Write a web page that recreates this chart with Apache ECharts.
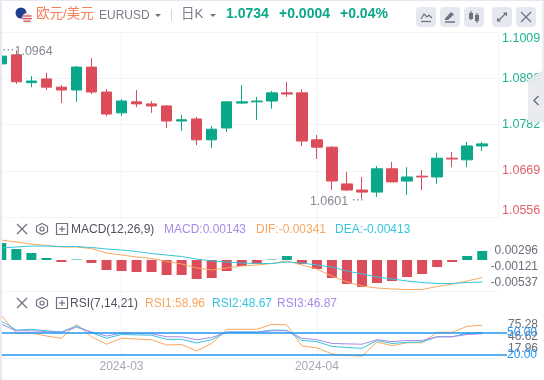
<!DOCTYPE html>
<html>
<head>
<meta charset="utf-8">
<style>html,body{margin:0;padding:0;background:#fff}#chart{width:544px;height:380px}</style>
<script src="https://cdn.jsdelivr.net/npm/echarts@6/dist/echarts.min.js"></script>
</head>
<body>
<div id="chart"></div>
<script>
// candles, oldest first, green = up
const opens  = [1.0931,1.0953,1.0885,1.0894,1.0874,1.0867,1.0923,1.0862,1.0811,1.0838,1.0833,1.0828,1.0791,1.0796,1.0745,1.0774,1.0835,1.0838,1.0840,1.0860,1.0860,1.0745,1.0727,1.0637,1.0622,1.0617,1.0674,1.0644,1.0656,1.0654,1.0700,1.0696,1.0730];
const closes = [1.0950,1.0887,1.0889,1.0874,1.0867,1.0923,1.0862,1.0808,1.0840,1.0833,1.0828,1.0791,1.0794,1.0745,1.0771,1.0838,1.0838,1.0840,1.0860,1.0857,1.0742,1.0727,1.0644,1.0622,1.0617,1.0674,1.0642,1.0654,1.0654,1.0700,1.0698,1.0730,1.0735];
const lows   = [1.0931,1.0882,1.0874,1.0867,1.0835,1.0838,1.0857,1.0803,1.0803,1.0825,1.0811,1.0774,1.0767,1.0732,1.0725,1.0764,1.0833,1.0794,1.0821,1.0850,1.0730,1.0698,1.0622,1.0620,1.0601,1.0605,1.0642,1.0610,1.0622,1.0637,1.0678,1.0678,1.0718];
const highs  = [1.0950,1.0964,1.0901,1.0909,1.0879,1.0926,1.0945,1.0869,1.0845,1.0867,1.0840,1.0830,1.0806,1.0801,1.0779,1.0838,1.0879,1.0850,1.0865,1.0887,1.0869,1.0757,1.0730,1.0666,1.0654,1.0681,1.0691,1.0678,1.0671,1.0713,1.0715,1.0740,1.0740];

const macdBars = [0.0034,0.0022,0.0014,0.0004,-0.0004,0.0001,-0.0006,-0.0020,-0.0022,-0.0024,-0.0024,-0.0030,-0.0030,-0.0038,-0.0036,-0.0022,-0.0012,-0.0008,0.0001,0.0008,-0.0008,-0.0018,-0.0036,-0.0048,-0.0054,-0.0046,-0.0042,-0.0034,-0.0028,-0.0014,-0.0004,0.0008,0.0018];
const dif = [0.0040,0.0036,0.0032,0.0029,0.0026,0.0026,0.0023,0.0014,0.0010,0.0006,0.0003,-0.0003,-0.0008,-0.0016,-0.0020,-0.0016,-0.0012,-0.0010,-0.0007,-0.0002,-0.0010,-0.0018,-0.0032,-0.0044,-0.0052,-0.0056,-0.0058,-0.0059,-0.0059,-0.0053,-0.0048,-0.0042,-0.0035];
const dea = [0.0024,0.0026,0.0028,0.0028,0.0027,0.0027,0.0025,0.0022,0.0020,0.0017,0.0013,0.0010,0.0007,0.0002,-0.0002,-0.0004,-0.0006,-0.0007,-0.0007,-0.0004,-0.0006,-0.0010,-0.0014,-0.0022,-0.0028,-0.0034,-0.0038,-0.0042,-0.0045,-0.0047,-0.0047,-0.0045,-0.0044];

const rsi1 = [73,48.7,49,45,42,60.7,44,34,42,41,40,33,33.5,25,35,54,54,54,60.7,60,31.7,29,21,19,18,37,32,36,36,50,50,58,59.5];
const rsi2 = [65,53,54,52,50.5,58.5,49.5,42,47,46.5,46,40.5,40.5,35.7,40,50.5,50.5,50.5,53,52.7,39,37.5,31,29.5,28.5,39,35,36.5,37,44,44,48.7,49.5];
const rsi3 = [60.7,52,52,51,50,56.7,50.5,45,48.7,48,48,44,44,40,43,50,50,50,52,52,42,40,35,34.5,34,40,37.5,39,39,44,44,47,48];
const rsiLevels = [50, 20];

const priceTicks = [1.1009, 1.0896, 1.0782, 1.0669, 1.0556];
const macdTicks = [0.00296, -0.00121, -0.00537];
const rsiTicks = [75.28, 46.62, 17.96];
const monthIndex = [8, 21];
const monthLabels = ['2024-03', '2024-04'];

const GREEN = '#0aa88a', RED = '#dc4d5b';
const FONT = '"Liberation Sans","Noto Sans CJK SC",sans-serif';
const LINE = '#f3f4f7', ICON = '#6f7280';
const ORANGE = '#f9a75e', CYAN = '#35c5dd', PURPLE = '#a98be8', BLUE = '#2196f3';

function pairs(arr) {
    return arr.map(function (v, i) { return [i, v]; });
}

const candleData = opens.map(function (o, i) {
    return [i, o, closes[i], lows[i], highs[i]];
});

function xAxisFor(gridIndex, showLabel) {
    return {
        type: 'value', gridIndex: gridIndex, min: 0.047, max: 33.05, scale: true,
        axisLine: {show: true, onZero: false, lineStyle: {color: LINE}},
        axisTick: {show: false, customValues: monthIndex},
        splitLine: {show: true, lineStyle: {color: LINE}},
        axisLabel: {
            show: showLabel, customValues: monthIndex, margin: 3,
            color: '#a6a9b6', fontSize: 12, fontFamily: FONT,
            formatter: function (v) { return monthLabels[monthIndex.indexOf(v)]; }
        }
    };
}

function labelAxis(gridIndex, min, max, ticks, digits, color) {
    return {
        type: 'value', gridIndex: gridIndex, position: 'right', min: min, max: max,
        axisLine: {show: false}, axisTick: {show: false, customValues: ticks}, splitLine: {show: false},
        axisLabel: {
            customValues: ticks, align: 'right', margin: 40, color: color,
            fontSize: 12, fontFamily: FONT,
            formatter: function (v) { return v.toFixed(digits); }
        }
    };
}

function hiddenAxis(gridIndex, min, max) {
    return {type: 'value', gridIndex: gridIndex, min: min, max: max, show: false};
}

function text(x, y, str, color, size, weight) {
    return {
        type: 'text', x: x, y: y, z: 50,
        style: {text: str, fill: color, font: (weight || 'normal') + ' ' + (size || 12) + 'px ' + FONT, verticalAlign: 'middle'}
    };
}

function seg(x1, y1, x2, y2, color, w) {
    return {type: 'line', z: 50, shape: {x1: x1, y1: y1, x2: x2, y2: y2}, style: {stroke: color || ICON, lineWidth: w || 1.2}};
}

function button(x) {
    return {type: 'rect', z: 49, shape: {x: x, y: 7, width: 20, height: 20, r: 4}, style: {fill: '#e6e8ef'}};
}

function caret(x, y) {
    return {type: 'polygon', z: 50, shape: {points: [[x, y], [x + 6, y], [x + 3, y + 3]]}, style: {fill: ICON}};
}

// the X / hexagon / plus box row in front of each indicator title
function panelIcons(y) {
    const h = 5.5, cx = 42;
    return [
        seg(17, y - 5, 27, y + 5, ICON), seg(27, y - 5, 17, y + 5, ICON),
        {type: 'polygon', z: 50, shape: {points: [[cx, y - h], [cx + h, y - h / 2], [cx + h, y + h / 2], [cx, y + h], [cx - h, y + h / 2], [cx - h, y - h / 2]]}, style: {fill: 'none', stroke: ICON, lineWidth: 1.2}},
        {type: 'circle', z: 50, shape: {cx: cx, cy: y, r: 2}, style: {fill: 'none', stroke: ICON, lineWidth: 1.2}},
        {type: 'rect', z: 50, shape: {x: 56.5, y: y - 5.5, width: 11, height: 11}, style: {fill: 'none', stroke: ICON, lineWidth: 1.2}},
        seg(59, y, 65, y, ICON), seg(62, y - 3, 62, y + 3, ICON)
    ];
}

const chrome = [
    {type: 'rect', z: 60, shape: {x: 0, y: 0, width: 2, height: 380}, style: {fill: '#e6e9f2'}},
    {type: 'rect', z: 60, shape: {x: 0, y: 0, width: 544, height: 1}, style: {fill: '#e6e9f2'}},
    {type: 'rect', z: 60, shape: {x: 542.5, y: 0, width: 2, height: 71}, style: {fill: '#e6e9f2'}},
    // flags
    {type: 'circle', z: 50, shape: {cx: 21, cy: 13, r: 5.5}, style: {fill: '#1f3f8f'}},
    {type: 'circle', z: 51, shape: {cx: 27, cy: 18, r: 5}, style: {fill: '#e9e3e6'}},
    Object.assign(seg(22.5, 16, 31.5, 16, '#d9525e', 1.2), {z: 52}),
    Object.assign(seg(22.2, 18.6, 31.8, 18.6, '#d9525e', 1.2), {z: 52}),
    Object.assign(seg(23.5, 21.2, 30.5, 21.2, '#d9525e', 1.2), {z: 52}),
    text(36, 14.5, '欧元/美元', '#f4805c', 13.5),
    text(99, 15.5, 'EURUSD', '#7a7d8a', 12),
    caret(155, 14),
    seg(171.5, 9, 171.5, 21, '#d5d7de', 1),
    text(181, 14.5, '日K', '#7a7d8a', 13.5),
    caret(210, 14),
    text(226, 14.5, '1.0734', GREEN, 14, 'bold'),
    text(279, 14.5, '+0.0004', GREEN, 14, 'bold'),
    text(340, 14.5, '+0.04%', GREEN, 14, 'bold'),
    button(416), button(440), button(464), button(492), button(516),
    // line icon
    {type: 'polyline', z: 50, shape: {points: [[421, 19], [424, 14], [427, 17], [429, 15], [432, 18]]}, style: {fill: 'none', stroke: ICON, lineWidth: 1.2}},
    seg(421, 21.5, 431, 21.5, ICON),
    // pencil icon
    {type: 'polygon', z: 50, shape: {points: [[445, 18.5], [451, 12], [454, 14.5], [448, 20], [445, 20]]}, style: {fill: ICON}},
    seg(445, 22, 455, 22, ICON, 1.5),
    // candle icon
    {type: 'rect', z: 50, shape: {x: 469, y: 13, width: 4, height: 6}, style: {fill: ICON}}, seg(471, 11, 471, 20, ICON),
    {type: 'rect', z: 50, shape: {x: 475, y: 15, width: 4, height: 6}, style: {fill: ICON}}, seg(477, 13, 477, 23, ICON),
    // expand icon
    seg(498, 21, 506, 13, ICON),
    {type: 'polygon', z: 50, shape: {points: [[503, 12.5], [507, 12.5], [507, 16.5]]}, style: {fill: ICON}},
    {type: 'polygon', z: 50, shape: {points: [[497, 17.5], [497, 21.5], [501, 21.5]]}, style: {fill: ICON}},
    // close icon
    seg(521, 12, 531, 22, ICON), seg(531, 12, 521, 22, ICON),
    // side handle
    {type: 'polygon', z: 55, shape: {points: [[528, 80], [541, 71], [544, 71], [544, 122], [528, 122]]}, style: {fill: '#e8e9ef', opacity: 0.92}},
    {type: 'polyline', z: 56, shape: {points: [[538.5, 96], [534, 100.5], [538.5, 105]]}, style: {fill: 'none', stroke: ICON, lineWidth: 1.5}},

    text(71, 229.5, 'MACD(12,26,9)', '#50535f', 12),
    text(164, 229.5, 'MACD:0.00143', PURPLE, 12),
    text(256, 229.5, 'DIF:-0.00341', ORANGE, 12),
    text(335, 229.5, 'DEA:-0.00413', CYAN, 12),
    text(70, 303.5, 'RSI(7,14,21)', '#50535f', 12),
    text(145, 303.5, 'RSI1:58.96', ORANGE, 12),
    text(212, 303.5, 'RSI2:48.67', CYAN, 12),
    text(277, 303.5, 'RSI3:46.87', PURPLE, 12)
].concat(panelIcons(229), panelIcons(303));

function lineSeries(name, data, color, xi, yi, extra) {
    return Object.assign({
        name: name, type: 'line', xAxisIndex: xi, yAxisIndex: yi, data: pairs(data),
        showSymbol: false, silent: true, lineStyle: {color: color, width: 1}
    }, extra || {});
}

const option = {
    animation: false,
    backgroundColor: '#fff',
    textStyle: {fontFamily: FONT},
    graphic: chrome,
    grid: [
        {left: 2, right: 46, top: 32, height: 185},
        {left: 2, right: 46, top: 218, height: 73},
        {left: 2, right: 46, top: 291, height: 67}
    ],
    xAxis: [xAxisFor(0, false), xAxisFor(1, false), xAxisFor(2, true)],
    yAxis: [
        {
            type: 'value', gridIndex: 0, position: 'right', min: 1.0556, max: 1.1009,
            axisLine: {show: true, lineStyle: {color: LINE}},
            axisTick: {show: false, customValues: priceTicks},
            splitLine: {show: true, lineStyle: {color: LINE}},
            axisLabel: {
                customValues: priceTicks, margin: 4, fontSize: 12.5, fontFamily: FONT,
                verticalAlignMaxLabel: 'bottom', verticalAlignMinLabel: 'top',
                color: function (v) { return v >= 1.0734 ? '#1fb394' : '#e0616e'; },
                formatter: function (v) { return v.toFixed(4); }
            }
        },
        hiddenAxis(1, -0.0062, 0.0084),
        labelAxis(1, -0.00745, 0.01155, macdTicks, 5, '#6b6e7a'),
        hiddenAxis(2, 15.5, 105.4),
        labelAxis(2, -3.5, 156.5, rsiTicks, 2, '#6b6e7a')
    ],
    series: [
        {
            name: 'EURUSD', type: 'candlestick', xAxisIndex: 0, yAxisIndex: 0, data: candleData,
            barWidth: 11, silent: true,
            encode: {x: 0, y: [1, 2, 3, 4]},
            itemStyle: {color: GREEN, color0: RED, borderColor: GREEN, borderColor0: RED, borderWidth: 1},
            markPoint: {
                symbol: 'circle', symbolSize: 0, silent: true,
                label: {show: true, color: '#858894', fontSize: 12.5, fontFamily: FONT},
                data: [
                    {coord: [1, Math.max.apply(null, highs)], label: {formatter: '⋯' + Math.max.apply(null, highs).toFixed(4), offset: [11, 1.5]}},
                    {coord: [24, Math.min.apply(null, lows)], label: {formatter: Math.min.apply(null, lows).toFixed(4) + ' ⋯', offset: [-25, 3]}}
                ]
            }
        },
        {
            name: 'MACD', type: 'bar', xAxisIndex: 1, yAxisIndex: 1, barWidth: 10, silent: true,
            data: pairs(macdBars),
            itemStyle: {color: function (p) { return p.value[1] >= 0 ? GREEN : RED; }}
        },
        lineSeries('DIF', dif, ORANGE, 1, 1),
        lineSeries('DEA', dea, CYAN, 1, 1),
        lineSeries('RSI1', rsi1, ORANGE, 2, 3),
        lineSeries('RSI2', rsi2, CYAN, 2, 3),
        lineSeries('RSI3', rsi3, PURPLE, 2, 3, {
            markLine: {
                symbol: 'none', silent: true,
                lineStyle: {color: BLUE, width: 1.5, type: 'solid'},
                label: {position: 'end', color: BLUE, fontSize: 12, fontFamily: FONT, distance: 0, formatter: function (p) { return rsiLevels[p.dataIndex].toFixed(2); }},
                data: rsiLevels.map(function (v) { return [{xAxis: 0.047, yAxis: v}, {x: 507, yAxis: v}]; })
            }
        })
    ]
};

const myChart = echarts.init(document.getElementById('chart'), null, {renderer: 'canvas'});
myChart.setOption(option);
</script>
</body>
</html>
